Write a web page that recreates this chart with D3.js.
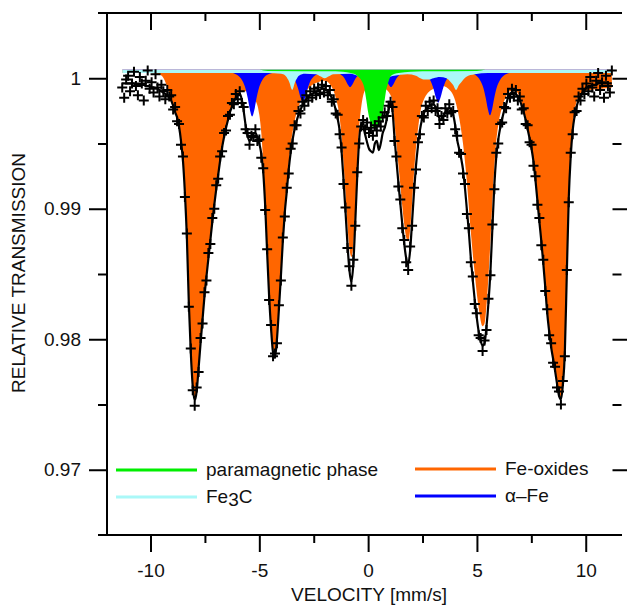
<!DOCTYPE html>
<html>
<head>
<meta charset="utf-8">
<script src="https://cdn.jsdelivr.net/npm/d3@7/dist/d3.min.js"></script>
<style>
  body { margin: 0; background: #fff; }
  svg { font-family: "Liberation Sans", Arial, sans-serif; }
</style>
</head>
<body>
<svg id="chart" width="627" height="605"></svg>
<script>
// ---- data ----
// channels start at v0 and are dv apart (mm/s)
const v0 = -11.3, dv = 0.09;

// measured relative transmission, one value per channel
const transmission = [
  0.9993, 0.9985, 0.9999, 1.0002, 0.9990, 0.9996, 1.0005, 0.9994, 0.9987, 1.0001, 0.9996, 0.9983, 0.9998, 1.0006, 0.9992, 0.9997, 0.9989, 1.0003, 0.9993, 0.9986, 0.9995, 0.9990, 0.9984, 0.9991, 0.9986,
  0.9987, 0.9976, 0.9978, 0.9967, 0.9965, 0.9949, 0.9940, 0.9909, 0.9881, 0.9825, 0.9793, 0.9761, 0.9749, 0.9763, 0.9775, 0.9801, 0.9812, 0.9836, 0.9845, 0.9866, 0.9873, 0.9893, 0.9900, 0.9918, 0.9923, 0.9940,
  0.9944, 0.9958, 0.9960, 0.9971, 0.9972, 0.9981, 0.9980, 0.9988, 0.9984, 0.9990, 0.9981, 0.9978, 0.9961, 0.9958, 0.9949, 0.9956, 0.9955, 0.9961, 0.9952, 0.9953, 0.9939, 0.9931, 0.9899, 0.9869, 0.9830,
  0.9811, 0.9787, 0.9789, 0.9797, 0.9826, 0.9845, 0.9878, 0.9894, 0.9916, 0.9927, 0.9946, 0.9950, 0.9964, 0.9964, 0.9975, 0.9973, 0.9982, 0.9979, 0.9987, 0.9983, 0.9990, 0.9985, 0.9992, 0.9987, 0.9993,
  0.9988, 0.9995, 0.9989, 0.9994, 0.9987, 0.9991, 0.9982, 0.9984, 0.9973, 0.9972, 0.9957, 0.9947, 0.9919, 0.9901, 0.9870, 0.9856, 0.9841, 0.9861, 0.9887, 0.9928, 0.9950,
  0.9963, 0.9968, 0.9961, 0.9966, 0.9958, 0.9962, 0.9956, 0.9964, 0.9960, 0.9967, 0.9963, 0.9970, 0.9974, 0.9971, 0.9979, 0.9982,
  0.9978, 0.9952, 0.9940, 0.9917, 0.9907, 0.9885, 0.9876, 0.9859, 0.9853, 0.9871, 0.9887, 0.9916, 0.9930, 0.9951, 0.9957, 0.9971, 0.9970, 0.9979, 0.9975, 0.9982, 0.9977, 0.9983, 0.9975, 0.9977, 0.9965,
  0.9971, 0.9968, 0.9977, 0.9973, 0.9980, 0.9974, 0.9975, 0.9961, 0.9956, 0.9943, 0.9942, 0.9927, 0.9919, 0.9896, 0.9885, 0.9859, 0.9848, 0.9827, 0.9820, 0.9803, 0.9801, 0.9791, 0.9799, 0.9807, 0.9831,
  0.9849, 0.9888, 0.9915, 0.9943, 0.9950, 0.9965, 0.9966, 0.9978, 0.9977, 0.9988, 0.9985, 0.9992, 0.9986, 0.9991, 0.9983, 0.9986, 0.9976, 0.9977, 0.9965, 0.9964, 0.9951, 0.9949, 0.9933, 0.9925, 0.9903,
  0.9893, 0.9872, 0.9861, 0.9837, 0.9823, 0.9803, 0.9797, 0.9782, 0.9779, 0.9763, 0.9760, 0.9750, 0.9768, 0.9787, 0.9853, 0.9905, 0.9943, 0.9957, 0.9974, 0.9975, 0.9986, 0.9983, 0.9992, 0.9988, 0.9996,
  0.9990, 1.0001, 0.9993, 0.9986, 0.9998, 1.0004, 0.9991, 0.9997, 0.9985, 1.0002, 0.9994, 0.9989, 1.0006
];

// fitted envelope (black line), same channels
const fitTransmission = [
  0.9996, 0.9996, 0.9996, 0.9996, 0.9996, 0.9996, 0.9996, 0.9995, 0.9995, 0.9995, 0.9995, 0.9995, 0.9994, 0.9994, 0.9994, 0.9993, 0.9993, 0.9992, 0.9992, 0.9991, 0.9990, 0.9989, 0.9988, 0.9987, 0.9985,
  0.9983, 0.9979, 0.9974, 0.9970, 0.9963, 0.9952, 0.9937, 0.9912, 0.9878, 0.9828, 0.9790, 0.9764, 0.9753, 0.9760, 0.9778, 0.9797, 0.9815, 0.9833, 0.9848, 0.9862, 0.9876, 0.9890, 0.9903, 0.9915, 0.9926, 0.9937,
  0.9947, 0.9955, 0.9962, 0.9968, 0.9974, 0.9978, 0.9982, 0.9985, 0.9987, 0.9988, 0.9984, 0.9975, 0.9964, 0.9956, 0.9952, 0.9954, 0.9958, 0.9958, 0.9955, 0.9950, 0.9942, 0.9928, 0.9902, 0.9866, 0.9833,
  0.9808, 0.9790, 0.9786, 0.9800, 0.9823, 0.9848, 0.9875, 0.9897, 0.9913, 0.9930, 0.9943, 0.9953, 0.9961, 0.9967, 0.9972, 0.9976, 0.9979, 0.9982, 0.9984, 0.9986, 0.9987, 0.9988, 0.9989, 0.9990, 0.9990,
  0.9991, 0.9992, 0.9992, 0.9991, 0.9990, 0.9988, 0.9985, 0.9981, 0.9976, 0.9969, 0.9960, 0.9944, 0.9922, 0.9898, 0.9873, 0.9853, 0.9844, 0.9858, 0.9890, 0.9925, 0.9953,
  0.9965, 0.9963, 0.9957, 0.9951, 0.9946, 0.9944, 0.9943, 0.9950, 0.9952, 0.9945, 0.9950, 0.9958, 0.9962, 0.9968, 0.9976, 0.9981,
  0.9975, 0.9955, 0.9937, 0.9920, 0.9904, 0.9888, 0.9873, 0.9862, 0.9857, 0.9868, 0.9890, 0.9913, 0.9933, 0.9948, 0.9960, 0.9968, 0.9973, 0.9976, 0.9978, 0.9979, 0.9980, 0.9980, 0.9978, 0.9974, 0.9969,
  0.9968, 0.9971, 0.9974, 0.9976, 0.9977, 0.9976, 0.9972, 0.9964, 0.9953, 0.9946, 0.9939, 0.9930, 0.9916, 0.9899, 0.9882, 0.9862, 0.9845, 0.9830, 0.9817, 0.9806, 0.9799, 0.9795, 0.9797, 0.9810, 0.9828,
  0.9852, 0.9885, 0.9918, 0.9940, 0.9953, 0.9962, 0.9969, 0.9975, 0.9980, 0.9985, 0.9988, 0.9989, 0.9989, 0.9988, 0.9986, 0.9983, 0.9979, 0.9974, 0.9968, 0.9961, 0.9954, 0.9946, 0.9936, 0.9922, 0.9906,
  0.9890, 0.9875, 0.9858, 0.9840, 0.9820, 0.9806, 0.9794, 0.9785, 0.9776, 0.9766, 0.9757, 0.9754, 0.9765, 0.9790, 0.9850, 0.9908, 0.9940, 0.9960, 0.9971, 0.9978, 0.9983, 0.9986, 0.9989, 0.9991, 0.9993,
  0.9994, 0.9994, 0.9995, 0.9995, 0.9995, 0.9996, 0.9996, 0.9996, 0.9996, 0.9996, 0.9996, 0.9996, 0.9996
];

// subspectra as [velocity, transmission] pairs, all hanging from the same baseline
const baseline = 1.00066;

const feOxides = [
  [-11.3, 1.0004], [-10.0, 1.0004], [-9.6, 1.0003], [-9.4, 1.0000], [-9.2, 0.9992], [-9.0, 0.9982], [-8.87, 0.9974],
  [-8.69, 0.9963], [-8.51, 0.9937], [-8.42, 0.9912], [-8.33, 0.9878], [-8.24, 0.9828], [-8.15, 0.9790], [-8.06, 0.9764],
  [-7.97, 0.9755], [-7.88, 0.9762], [-7.79, 0.9779], [-7.61, 0.9815], [-7.43, 0.9848], [-7.25, 0.9876], [-7.07, 0.9903],
  [-6.89, 0.9926], [-6.71, 0.9947], [-6.53, 0.9962], [-6.35, 0.9974], [-6.17, 0.9982], [-5.99, 0.9988], [-5.81, 0.9990],
  [-5.6, 0.9990], [-5.4, 0.9988], [-5.2, 0.9984], [-5.0, 0.9972], [-4.91, 0.9958], [-4.82, 0.9935], [-4.73, 0.9905],
  [-4.64, 0.9868], [-4.55, 0.9835], [-4.46, 0.9810], [-4.37, 0.9793], [-4.28, 0.9789], [-4.19, 0.9803], [-4.10, 0.9826],
  [-4.01, 0.9851], [-3.92, 0.9878], [-3.83, 0.9900], [-3.74, 0.9917], [-3.65, 0.9934], [-3.56, 0.9948], [-3.38, 0.9967],
  [-3.2, 0.9978], [-3.0, 0.9986], [-2.7, 0.9993], [-2.3, 0.9997], [-2.0, 0.9998], [-1.7, 0.9994], [-1.49, 0.9985],
  [-1.31, 0.9970], [-1.22, 0.9955], [-1.13, 0.9935], [-1.04, 0.9912], [-0.95, 0.9888], [-0.86, 0.9870], [-0.77, 0.9863],
  [-0.68, 0.9872], [-0.59, 0.9900], [-0.50, 0.9935], [-0.41, 0.9962], [-0.3, 0.9980], [-0.1, 0.9992], [0.3, 0.9996],
  [0.7, 0.9993], [1.0, 0.9988], [1.12, 0.9982], [1.21, 0.9966], [1.30, 0.9950], [1.39, 0.9934], [1.48, 0.9918],
  [1.57, 0.9902], [1.66, 0.9888], [1.75, 0.9878], [1.84, 0.9875], [1.93, 0.9884], [2.02, 0.9905], [2.11, 0.9928],
  [2.20, 0.9947], [2.29, 0.9961], [2.38, 0.9972], [2.6, 0.9985], [3.0, 0.9992], [3.4, 0.9994], [3.8, 0.9990],
  [4.0, 0.9983], [4.18, 0.9970], [4.36, 0.9950], [4.54, 0.9920], [4.72, 0.9882], [4.90, 0.9850], [5.08, 0.9824],
  [5.26, 0.9810], [5.35, 0.9812], [5.44, 0.9826], [5.53, 0.9848], [5.62, 0.9875], [5.71, 0.9905], [5.80, 0.9932],
  [5.89, 0.9952], [5.98, 0.9964], [6.16, 0.9978], [6.34, 0.9986], [6.52, 0.9990], [6.79, 0.9990], [6.97, 0.9985],
  [7.15, 0.9976], [7.33, 0.9963], [7.51, 0.9948], [7.69, 0.9924], [7.87, 0.9892], [8.05, 0.9860], [8.23, 0.9822],
  [8.41, 0.9796], [8.59, 0.9778], [8.77, 0.9759], [8.86, 0.9756], [8.95, 0.9767], [9.04, 0.9792], [9.13, 0.9852],
  [9.22, 0.9910], [9.31, 0.9942], [9.40, 0.9962], [9.58, 0.9982], [9.8, 0.9988], [10.2, 0.9991], [10.7, 0.9992], [11.2, 0.9993]
];

const alphaFe = [
  [-11.3, 1.00064], [-8.0, 1.0006], [-7.0, 1.00055], [-6.33, 1.00044], [-6.03, 1.00026], [-5.78, 0.9998], [-5.63, 0.99918],
  [-5.53, 0.99846], [-5.43, 0.99756], [-5.33, 0.99706], [-5.23, 0.99756], [-5.13, 0.99846], [-5.03, 0.99918], [-4.88, 0.9998],
  [-4.63, 1.00026], [-4.33, 1.0004], [-4.0, 1.00039], [-3.7, 1.00035], [-3.45, 1.00003], [-3.3, 0.9996], [-3.2, 0.9991],
  [-3.1, 0.99848], [-3.0, 0.99813], [-2.9, 0.99848], [-2.8, 0.9991], [-2.7, 0.9996], [-2.55, 1.00003], [-2.3, 1.00035],
  [-2.0, 1.00046], [-1.5, 1.00046], [-1.28, 1.0003], [-1.13, 1.00009], [-1.03, 0.99983], [-0.93, 0.99951], [-0.83, 0.99933],
  [-0.73, 0.99951], [-0.63, 0.99983], [-0.53, 1.00009], [-0.38, 1.0003], [-0.13, 1.0004], [0.35, 1.0004], [0.6, 1.0003],
  [0.75, 1.00009], [0.85, 0.99983], [0.95, 0.99951], [1.05, 0.99933], [1.15, 0.99951], [1.25, 0.99983], [1.35, 1.00009],
  [1.5, 1.0003], [1.75, 1.0004], [2.22, 1.00046], [2.52, 1.00035], [2.77, 1.00003], [2.92, 0.9996], [3.02, 0.9991],
  [3.12, 0.99848], [3.22, 0.99813], [3.32, 0.99848], [3.42, 0.9991], [3.52, 0.9996], [3.67, 1.00003], [3.92, 1.00035],
  [4.22, 1.0004], [4.6, 1.00044], [4.9, 1.00028], [5.15, 0.99982], [5.3, 0.99923], [5.4, 0.99852], [5.5, 0.99765],
  [5.6, 0.99716], [5.7, 0.99765], [5.8, 0.99852], [5.9, 0.99923], [6.05, 0.99982], [6.3, 1.00028], [6.6, 1.00044],
  [7.5, 1.00055], [11.2, 1.00064]
];

const fe3c = [
  [-11.3, 1.0004], [-4.6, 1.0004], [-4.0, 1.00035], [-3.8, 1.0002], [-3.68, 0.9999], [-3.6, 0.9996], [-3.54, 0.99925],
  [-3.49, 0.9991], [-3.44, 0.99925], [-3.38, 0.9996], [-3.3, 0.9999], [-3.18, 1.0002], [-2.9, 1.00035], [-2.4, 1.0003],
  [-2.2, 1.00015], [-2.0, 1.0000], [-1.8, 1.00015], [-1.6, 1.0003], [-0.8, 1.00035], [-0.5, 1.0002], [-0.35, 1.0001],
  [-0.2, 1.0002], [0.2, 1.0003], [0.6, 1.0002], [0.9, 1.0001], [1.2, 1.0002], [1.8, 1.0003], [2.2, 1.0002],
  [2.4, 1.0000], [2.6, 0.9999], [2.8, 0.9999], [3.0, 1.0000], [3.3, 1.0001], [3.6, 1.0000], [3.8, 0.9997],
  [3.92, 0.99945], [3.99, 0.9992], [4.04, 0.9991], [4.09, 0.9992], [4.16, 0.99945], [4.28, 0.9997], [4.5, 1.0001],
  [4.9, 1.0003], [5.5, 1.0004], [11.2, 1.0004]
];

const paramagnetic = [
  [-11.3, 1.00066], [-5.0, 1.00066], [-4.6, 1.00056], [-1.5, 1.00054], [-0.8, 1.0004], [-0.5, 1.0002], [-0.3, 0.9998],
  [-0.18, 0.9993], [-0.08, 0.9983], [0.0, 0.9974], [0.08, 0.9968], [0.18, 0.99635], [0.32, 0.99622], [0.46, 0.99635],
  [0.56, 0.9966], [0.66, 0.9973], [0.74, 0.9981], [0.82, 0.9990], [0.92, 0.99965], [1.05, 1.0002], [1.4, 1.0004],
  [2.5, 1.00054], [5.0, 1.00056], [5.4, 1.00066], [11.2, 1.00066]
];

// axis ticks
const xMajor = [-10, -5, 0, 5, 10];
const xMinor = [-7.5, -2.5, 2.5, 7.5];
const yMajor = [0.97, 0.98, 0.99, 1];
const yMajorLabels = ["0.97", "0.98", "0.99", "1"];
const yMinor = [0.975, 0.985, 0.995];

// legend
const legendLabels = ["paramagnetic phase", "Fe3C", "Fe-oxides", "\u03b1\u2013Fe"];
const legendColors = ["#00ee00", "#aaf8f8", "#ff6600", "#0000ff"];

// ---- drawing ----
const svg = d3.select("#chart");
const x = d3.scaleLinear().domain([-12, 11.23]).range([107, 612.5]);
const y = d3.scaleLinear().domain([0.965, 1.005]).range([535, 13]);

const band = d3.area()
  .x(d => x(d[0]))
  .y0(y(baseline))
  .y1(d => y(d[1]))
  .curve(d3.curveMonotoneX);

// drawing order matters: later bands cover earlier ones
const bands = [
  [feOxides, legendColors[2]],
  [alphaFe, legendColors[3]],
  [fe3c, legendColors[1]],
  [paramagnetic, legendColors[0]]
];
bands.forEach(([pts, col]) => {
  svg.append("path")
    .datum(pts)
    .attr("d", band)
    .attr("fill", col);
});

const channels = transmission.map((t, i) => ({ v: v0 + i * dv, t: t, f: fitTransmission[i] }));

svg.append("path")
  .datum(channels)
  .attr("d", d3.line().x(d => x(d.v)).y(d => y(d.f)).curve(d3.curveMonotoneX))
  .attr("fill", "none")
  .attr("stroke", "#000")
  .attr("stroke-width", 2.2);

svg.append("g")
  .selectAll("path")
  .data(channels)
  .join("path")
  .attr("d", "M-5,0H5M0,-5V5")
  .attr("transform", d => `translate(${x(d.v)},${y(d.t)})`)
  .attr("stroke", "#000")
  .attr("stroke-width", 2);

// frame lines
const frame = svg.append("g").attr("stroke", "#000").attr("stroke-width", 2);
frame.append("line").attr("x1", 98).attr("x2", 622).attr("y1", 535).attr("y2", 535);
frame.append("line").attr("x1", 98).attr("x2", 622).attr("y1", 13).attr("y2", 13);
frame.append("line").attr("x1", 107).attr("x2", 107).attr("y1", 13).attr("y2", 535);

const styleAxis = g => {
  g.select(".domain").remove();
  g.selectAll(".tick line").attr("stroke-width", 2);
  g.selectAll("text").attr("font-size", 19).attr("fill", "#111")
    .attr("font-family", "'Liberation Sans', Arial, sans-serif");
};

// bottom
svg.append("g").attr("transform", "translate(0,535)")
  .call(d3.axisBottom(x).tickValues(xMajor).tickSize(17).tickPadding(12).tickFormat(d => String(d)))
  .call(styleAxis);
svg.append("g").attr("transform", "translate(0,535)")
  .call(d3.axisBottom(x).tickValues(xMinor).tickSize(8).tickFormat(""))
  .call(styleAxis);
// top, ticks pointing in
svg.append("g").attr("transform", "translate(0,13)")
  .call(d3.axisTop(x).tickValues(xMajor).tickSize(-17).tickFormat(""))
  .call(styleAxis);
svg.append("g").attr("transform", "translate(0,13)")
  .call(d3.axisTop(x).tickValues(xMinor).tickSize(-8).tickFormat(""))
  .call(styleAxis);
// left
svg.append("g").attr("transform", "translate(107,0)")
  .call(d3.axisLeft(y).tickValues(yMajor).tickSize(18).tickPadding(8)
    .tickFormat((d, i) => yMajorLabels[i]))
  .call(styleAxis);
svg.append("g").attr("transform", "translate(107,0)")
  .call(d3.axisLeft(y).tickValues(yMinor).tickSize(9).tickFormat(""))
  .call(styleAxis);
// right, ticks only
svg.append("g").attr("transform", "translate(612.5,0)")
  .call(d3.axisRight(y).tickValues(yMajor).tickSize(18).tickFormat(""))
  .call(styleAxis);
svg.append("g").attr("transform", "translate(612.5,0)")
  .call(d3.axisRight(y).tickValues(yMinor).tickSize(9).tickFormat(""))
  .call(styleAxis);

// axis titles
svg.append("text")
  .attr("x", 369).attr("y", 601)
  .attr("text-anchor", "middle")
  .attr("font-size", 19).attr("fill", "#111")
  .text("VELOCITY [mm/s]");
svg.append("text")
  .attr("transform", "translate(25,273) rotate(-90)")
  .attr("text-anchor", "middle")
  .attr("font-size", 19).attr("fill", "#111")
  .text("RELATIVE TRANSMISSION");

// legend, two columns
const legendPos = [[116, 470], [116, 497], [415, 469], [415, 496]];
legendLabels.forEach((lab, i) => {
  const [lx, ly] = legendPos[i];
  svg.append("line")
    .attr("x1", lx).attr("x2", lx + 81)
    .attr("y1", ly).attr("y2", ly)
    .attr("stroke", legendColors[i]).attr("stroke-width", 3);
  const t = svg.append("text")
    .attr("x", lx + 90).attr("y", ly + 6)
    .attr("font-size", 19).attr("fill", "#111");
  if (lab === "Fe3C") {
    t.append("tspan").text("Fe");
    t.append("tspan").attr("dy", 3).text("3");
    t.append("tspan").attr("dy", -3).text("C");
  } else {
    t.text(lab);
  }
});
</script>
</body>
</html>
